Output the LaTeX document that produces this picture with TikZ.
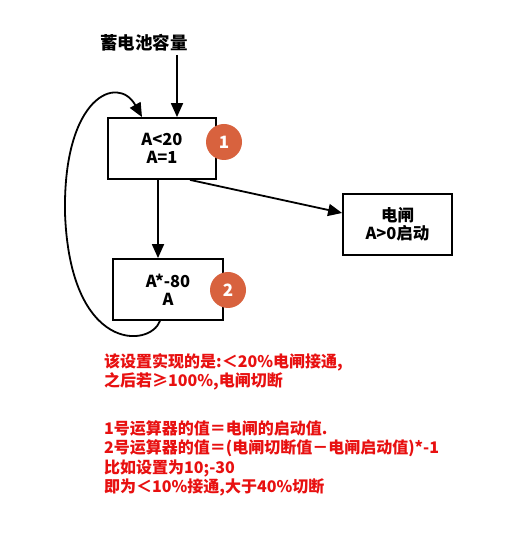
\documentclass[tikz,border=0pt]{standalone}
\usepackage{fontspec}
\setmainfont{Noto Sans CJK SC}
\usetikzlibrary{arrows.meta}
\definecolor{badge}{RGB}{216,98,62}
\definecolor{notered}{RGB}{232,16,16}
\begin{document}
\begin{tikzpicture}[x=1pt,y=1pt,
  box/.style={draw=black,line width=1.8pt,fill=white,minimum width=#1,minimum height=61pt,inner sep=0pt,align=center,font=\fontsize{16.5}{18}\selectfont\bfseries},
  badgenode/.style={circle,fill=badge,minimum size=36pt,inner sep=0pt,text=white,font=\fontsize{17}{18}\selectfont\bfseries},
  conn/.style={line width=1.8pt,-{Triangle[length=14pt,width=12pt]}},
  note/.style={anchor=north west,align=left,inner sep=0pt,text=notered,font=\fontsize{16}{19.5}\selectfont\bfseries}]
\useasboundingbox[fill=white] (0,0) rectangle (525,538);
\node[font=\fontsize{17.5}{18}\selectfont\bfseries] (title) at (144,495) {蓄电池容量};
\node[box=108pt] (b1) at (162,389.5) {A<20\\A=1};
\node[box=110pt] (b2) at (168,248.5) {A*-80\\A};
\node[box=109pt] (b3) at (397.5,313.5) {电闸\\A>0启动};
\node[badgenode] (c1) at (224,396) {1};
\node[badgenode] (c2) at (228,248) {2};
\draw[conn] ([xshift=33pt]title.south) -- ([xshift=15pt]b1.north);
\draw[conn] ([xshift=-4pt]b1.south) -- ([xshift=-10pt]b2.north);
\draw[conn] ([xshift=28pt]b1.south) -- ([yshift=11.5pt]b3.west);
\draw[conn] ([xshift=-8pt]b2.south) .. controls (150,190) and (70,185) .. (65,325)
  .. controls (63,442) and (118,464) .. ([xshift=-20pt]b1.north);
\node[note] (n1) at (104,185) {该设置实现的是:＜20\%电闸接通,\\之后若≥100\%,电闸切断};
\node[note] (n2) at (104,118) {1号运算器的值＝电闸的启动值.\\2号运算器的值＝(电闸切断值－电闸启动值)*-1\\比如设置为10;-30\\即为＜10\%接通,大于40\%切断};
\end{tikzpicture}
\end{document}
